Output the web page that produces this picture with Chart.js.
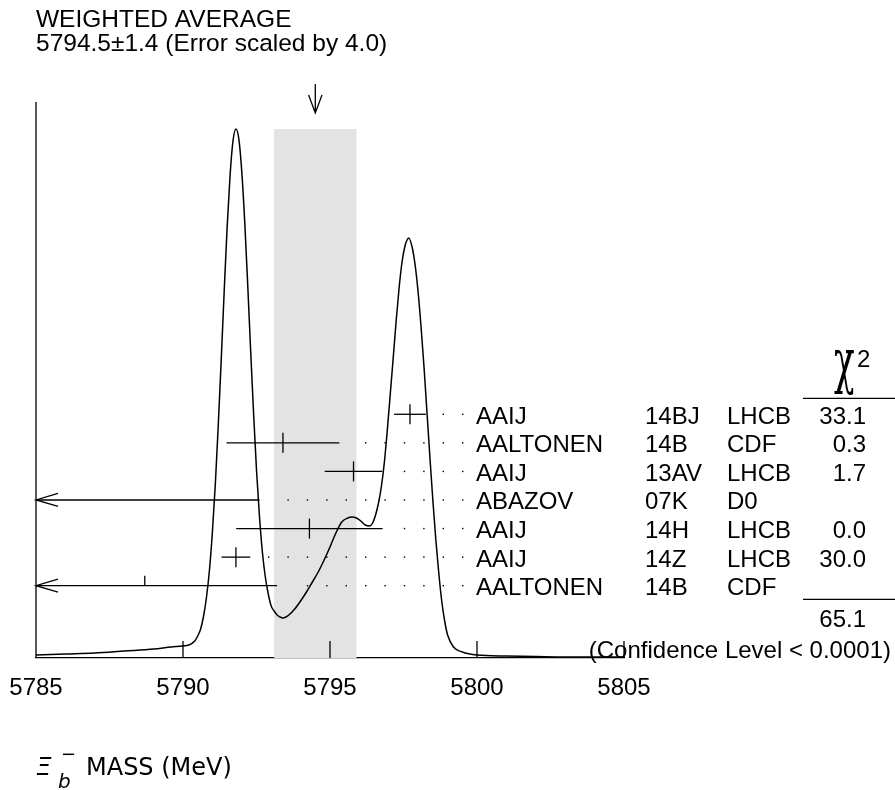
<!DOCTYPE html>
<html>
<head>
<meta charset="utf-8">
<script src="https://cdn.jsdelivr.net/npm/chart.js@4.4.1/dist/chart.umd.min.js"></script>
<style>
  body { margin: 0; background: #fff; }
  #wrap { width: 895px; height: 790px; }
</style>
</head>
<body>
<div id="wrap"><canvas id="chart" width="895" height="790"></canvas></div>
<script>
// measurements, top row first
const authors = ["AAIJ", "AALTONEN", "AAIJ", "ABAZOV", "AAIJ", "AAIJ", "AALTONEN"];
const docIds = ["14BJ", "14B", "13AV", "07K", "14H", "14Z", "14B"];
const experiments = ["LHCB", "CDF", "LHCB", "D0", "LHCB", "LHCB", "CDF"];
const masses = [5797.72, 5793.4, 5795.8, 5774, 5794.3, 5791.8, 5788.7];
const errors = [0.54, 1.92, 0.98, 18.6, 2.49, 0.49, 4.5];
const chi2 = [33.1, 0.3, 1.7, null, 0.0, 30.0, null];

const avgMass = 5794.5;
const avgErr = 1.4;
const errScale = 4.0;
const chi2Total = 65.1;
const confText = "(Confidence Level < 0.0001)";

const xTicks = [5785, 5790, 5795, 5800, 5805];

// ideogram curve (height in arbitrary units)
const ideoMass = [5785, 5786, 5787, 5788, 5789, 5789.6, 5790.0, 5790.2, 5790.4, 5790.5,
  5790.6, 5790.7, 5790.8, 5790.9, 5791.0, 5791.1, 5791.2, 5791.3, 5791.4, 5791.5,
  5791.6, 5791.7, 5791.8, 5791.9, 5792.0, 5792.1, 5792.2, 5792.3, 5792.4, 5792.5,
  5792.6, 5792.7, 5792.8, 5792.9, 5793.0, 5793.1, 5793.2, 5793.3, 5793.4, 5793.5,
  5793.6, 5793.8, 5794.0, 5794.2, 5794.4, 5794.6, 5794.8, 5795.0, 5795.2, 5795.4,
  5795.6, 5795.75, 5795.9, 5796.05, 5796.2, 5796.35, 5796.45, 5796.55, 5796.65, 5796.75,
  5796.85, 5796.95, 5797.05, 5797.15, 5797.25, 5797.35, 5797.45, 5797.55, 5797.62, 5797.68,
  5797.8, 5797.9, 5798.0, 5798.1, 5798.2, 5798.3, 5798.4, 5798.5, 5798.6, 5798.7,
  5798.8, 5798.9, 5799.0, 5799.2, 5799.5, 5800, 5801, 5802, 5803.5, 5805];
const ideoHeight = [3, 4, 5, 7, 9, 11, 12, 13, 17, 22,
  29, 42, 61, 88, 126, 174, 233, 298, 366, 430,
  482, 517, 529, 519, 486, 436, 374, 308, 245, 188,
  142, 106, 81, 64, 52, 47, 43, 41, 40, 41,
  43, 49, 57, 66, 76, 86, 98, 111, 125, 136,
  140, 141, 140, 137, 133, 132, 135, 143, 155, 172,
  196, 228, 264, 300, 337, 370, 396, 412, 418, 420,
  410, 392, 365, 330, 290, 245, 200, 157, 118, 85,
  57, 37, 23, 11, 6, 3, 2, 1.5, 1, 1];

const FONT = "'Liberation Sans', Arial, sans-serif";
const rowBase = 72.3;   // y of the bottom row
const rowStep = 28.57;  // spacing between rows

function rowY(i) {
  return rowBase + (authors.length - 1 - i) * rowStep;
}

const ideogramExtras = {
  id: "ideogramExtras",
  beforeDatasetsDraw(chart) {
    const { ctx, scales: { x, y } } = chart;
    const top = y.getPixelForValue(Math.max(...ideoHeight));
    const x0 = x.getPixelForValue(avgMass - avgErr);
    const x1 = x.getPixelForValue(avgMass + avgErr);
    ctx.save();
    ctx.fillStyle = "#e3e3e3";
    ctx.fillRect(x0, top, x1 - x0, y.getPixelForValue(0) - top);
    ctx.restore();
  },
  afterDatasetsDraw(chart) {
    const { ctx, chartArea: area, scales: { x, y } } = chart;
    ctx.save();
    ctx.strokeStyle = "#000";
    ctx.fillStyle = "#000";
    ctx.lineWidth = 1.3;

    // left vertical line
    ctx.beginPath();
    ctx.moveTo(area.left, area.top);
    ctx.lineTo(area.left, area.bottom);
    ctx.stroke();

    // ticks pointing up into the plot
    xTicks.forEach((t) => {
      if (t === x.min) return;
      const px = x.getPixelForValue(t);
      ctx.beginPath();
      ctx.moveTo(px, area.bottom);
      ctx.lineTo(px, area.bottom - 17);
      ctx.stroke();
    });

    // error bars
    const dotEnd = 462.7, dotStep = 19.4;
    authors.forEach((a, i) => {
      const py = y.getPixelForValue(rowY(i));
      const lo = masses[i] - errors[i], hi = masses[i] + errors[i];
      const pLo = x.getPixelForValue(Math.max(lo, x.min));
      const pHi = x.getPixelForValue(Math.min(hi, x.max));
      ctx.beginPath();
      ctx.moveTo(pLo, py);
      ctx.lineTo(pHi, py);
      ctx.stroke();
      if (lo < x.min) {
        ctx.beginPath();
        ctx.moveTo(pLo + 22, py - 6.5);
        ctx.lineTo(pLo, py);
        ctx.lineTo(pLo + 22, py + 6.5);
        ctx.stroke();
      }
      if (masses[i] >= x.min && masses[i] <= x.max) {
        const pc = x.getPixelForValue(masses[i]);
        ctx.beginPath();
        ctx.moveTo(pc, py - 10);
        ctx.lineTo(pc, chi2[i] === null ? py : py + 10);
        ctx.stroke();
      }
      // dotted leader
      for (let d = dotEnd; d > pHi + 14; d -= dotStep) {
        ctx.fillRect(d - 0.7, py - 0.7, 1.4, 1.4);
      }

      // texts
      ctx.font = "24px " + FONT;
      ctx.textBaseline = "alphabetic";
      ctx.textAlign = "left";
      ctx.fillText(a, 476, py + 9.5);
      ctx.fillText(docIds[i], 645, py + 9.5);
      ctx.fillText(experiments[i], 727, py + 9.5);
      if (chi2[i] !== null) {
        ctx.textAlign = "right";
        ctx.fillText(chi2[i].toFixed(1), 866, py + 9.5);
      }
    });

    // chi2 header and sum
    ctx.textAlign = "left";
    ctx.save();
    ctx.translate(834, 382);
    ctx.scale(1, 1.75);
    ctx.font = "34px 'DejaVu Serif', serif";
    ctx.fillText("\u03C7", 0, 0);
    ctx.restore();
    ctx.font = "24px " + FONT;
    ctx.fillText("2", 857, 367);
    ctx.beginPath();
    ctx.moveTo(803, 398.3);
    ctx.lineTo(895, 398.3);
    ctx.moveTo(803, 599.3);
    ctx.lineTo(895, 599.3);
    ctx.stroke();
    ctx.textAlign = "right";
    ctx.fillText(chi2Total.toFixed(1), 866, 627);
    ctx.fillText(confText, 891, 658);

    // weighted average title and arrow
    ctx.textAlign = "left";
    ctx.font = "24.5px " + FONT;
    ctx.fillText("WEIGHTED AVERAGE", 36, 27);
    ctx.fillText(avgMass.toFixed(1) + "\u00B1" + avgErr.toFixed(1) +
      " (Error scaled by " + errScale.toFixed(1) + ")", 36, 51);
    const pa = x.getPixelForValue(avgMass);
    ctx.beginPath();
    ctx.moveTo(pa, 84);
    ctx.lineTo(pa, 113);
    ctx.moveTo(pa - 6.7, 95);
    ctx.lineTo(pa, 113);
    ctx.lineTo(pa + 6.7, 95);
    ctx.stroke();

    // axis title
    ctx.font = "italic 25px 'DejaVu Sans', sans-serif";
    ctx.fillText("\u039E", 36, 775);
    ctx.font = "italic 20px 'DejaVu Sans', sans-serif";
    ctx.fillText("b", 58, 788);
    ctx.font = "18px 'DejaVu Sans', sans-serif";
    ctx.fillText("\u2212", 61, 760);
    ctx.font = "24px 'DejaVu Sans', sans-serif";
    ctx.fillText("MASS (MeV)", 86, 775);
    ctx.restore();
  }
};

new Chart(document.getElementById("chart"), {
  type: "line",
  data: {
    datasets: [{
      data: ideoMass.map((m, i) => ({ x: m, y: ideoHeight[i] })),
      borderColor: "#000",
      borderWidth: 1.5,
      pointRadius: 0,
      fill: false,
      cubicInterpolationMode: "monotone",
    }],
  },
  options: {
    responsive: false,
    animation: false,
    devicePixelRatio: 1,
    layout: { padding: { left: 36, right: 271, top: 102, bottom: 72 } },
    scales: {
      x: {
        type: "linear",
        min: 5785,
        max: 5805,
        afterBuildTicks: (s) => { s.ticks = xTicks.map((v) => ({ value: v })); },
        afterFit: (s) => { s.height = 60; s.paddingLeft = 0; s.paddingRight = 0; },
        grid: { display: false, drawTicks: false },
        border: { display: true, color: "#000", width: 1.3 },
        ticks: {
          color: "#000",
          padding: 16,
          font: { family: FONT, size: 24 },
          callback: (v) => String(v),
        },
      },
      y: { type: "linear", min: 0, max: 556, display: false },
    },
    plugins: { legend: { display: false }, tooltip: { enabled: false } },
  },
  plugins: [ideogramExtras],
});
</script>
</body>
</html>
